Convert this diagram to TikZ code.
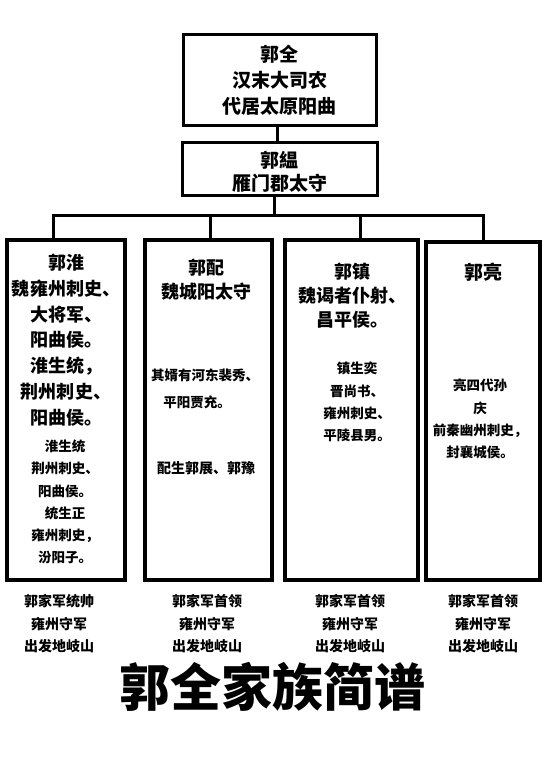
\documentclass[tikz,border=0pt]{standalone}
\usepackage{fontspec}
\setmainfont{Noto Sans CJK SC}
\begin{document}
\begin{tikzpicture}[x=1pt,y=-1pt,
  topbox/.style={draw=black,line width=3pt,fill=white},
  colbox/.style={draw=black,line width=4pt,fill=white},
  link/.style={draw=black,line width=3pt},
  big/.style={font=\bfseries\fontsize{19}{26}\selectfont,align=center,inner sep=0pt},
  head/.style={font=\bfseries\fontsize{18}{25.5}\selectfont,align=center,inner sep=0pt},
  small/.style={font=\bfseries\fontsize{13.5}{22.3}\selectfont,align=center,inner sep=0pt},
  foot/.style={font=\bfseries\fontsize{14}{22.5}\selectfont,align=center,inner sep=0pt}]
\useasboundingbox[fill=white] (0,0) rectangle (550,783);
% top boxes
\path[topbox] (183,35) rectangle (376,126);
\node[inner sep=0pt] (top) at (279.5,80.5) [minimum width=193pt,minimum height=91pt] {};
\path[topbox] (182,143) rectangle (377,196);
\node[inner sep=0pt] (sec) at (279.5,169.5) [minimum width=195pt,minimum height=53pt] {};
\node[big] (toptext) at (279.5,80) {郭全\\汉末大司农\\代居太原阳曲};
\node[big,font=\bfseries\fontsize{19}{23}\selectfont] (sectext) at (279.5,171.5) {郭緼\\雁门郡太守};
% columns
\node[colbox,minimum width=118pt,minimum height=340pt,inner sep=0pt] (c1) at (66,410) {};
\node[colbox,minimum width=127pt,minimum height=340pt,inner sep=0pt] (c2) at (208.5,410) {};
\node[colbox,minimum width=133pt,minimum height=340pt,inner sep=0pt] (c3) at (351.5,410) {};
\node[colbox,minimum width=114pt,minimum height=338pt,inner sep=0pt] (c4) at (483,411) {};
% connectors
\coordinate (busmid) at (274,216);
\coordinate (bus1) at (53,216);
\coordinate (bus2) at (210,216);
\coordinate (bus3) at (360,216);
\coordinate (bus4) at (483,216);
\draw[link] (top.south -| 277,0) -- (sec.north -| 277,0);
\draw[link] (sec.south -| busmid) -- (busmid);
\draw[link] ([xshift=-1.5pt]bus1) -- ([xshift=1.5pt]bus4);
\draw[link] (bus1) -- (bus1 |- c1.north);
\draw[link] (bus2) -- (bus2 |- c2.north);
\draw[link] (bus3) -- (bus3 |- c3.north);
\draw[link] (bus4) -- (bus4 |- c4.north);
% column 1
\node[head,font=\bfseries\fontsize{18}{25.8}\selectfont] (c1h) at (66,340) {郭淮\\魏雍州刺史、\\大将军、\\阳曲侯。\\淮生统，\\荆州刺史、\\阳曲侯。};
\node[small,font=\bfseries\fontsize{13.5}{22.2}\selectfont] (c1s) at (65,502) {淮生统\\荆州刺史、\\阳曲侯。\\统生正\\雍州刺史，\\汾阳子。};
% column 2
\node[head,font=\bfseries\fontsize{18}{24}\selectfont] (c2h) at (206,280) {郭配\\魏城阳太守};
\node[small] (c2s1) at (205,375) {其婿有河东裴秀、};
\node[small] (c2s2) at (197,402) {平阳贾充。};
\node[small,font=\bfseries\fontsize{14}{22}\selectfont] (c2s3) at (206,468) {配生郭展、郭豫};
% column 3
\node[head,font=\bfseries\fontsize{18}{24}\selectfont] (c3h) at (352,296) {郭镇\\魏谒者仆射、\\昌平侯。};
\node[small] (c3s) at (357,402) {镇生奕\\晋尚书、\\雍州刺史、\\平陵县男。};
% column 4
\node[head,font=\bfseries\fontsize{19}{24}\selectfont] (c4h) at (483,272) {郭亮};
\node[small] (c4s) at (480,419) {亮四代孙\\庆\\前秦幽州刺史，\\封襄城侯。};
% footers
\node[foot] (f1) at (59,624) {郭家军统帅\\雍州守军\\出发地岐山};
\node[foot] (f2) at (207,624) {郭家军首领\\雍州守军\\出发地岐山};
\node[foot] (f3) at (350,624) {郭家军首领\\雍州守军\\出发地岐山};
\node[foot] (f4) at (483,624) {郭家军首领\\雍州守军\\出发地岐山};
% title
\node[inner sep=0pt,font=\bfseries\fontsize{51}{56}\selectfont] (title) at (272,687) {郭全家族简谱};
\end{tikzpicture}
\end{document}
